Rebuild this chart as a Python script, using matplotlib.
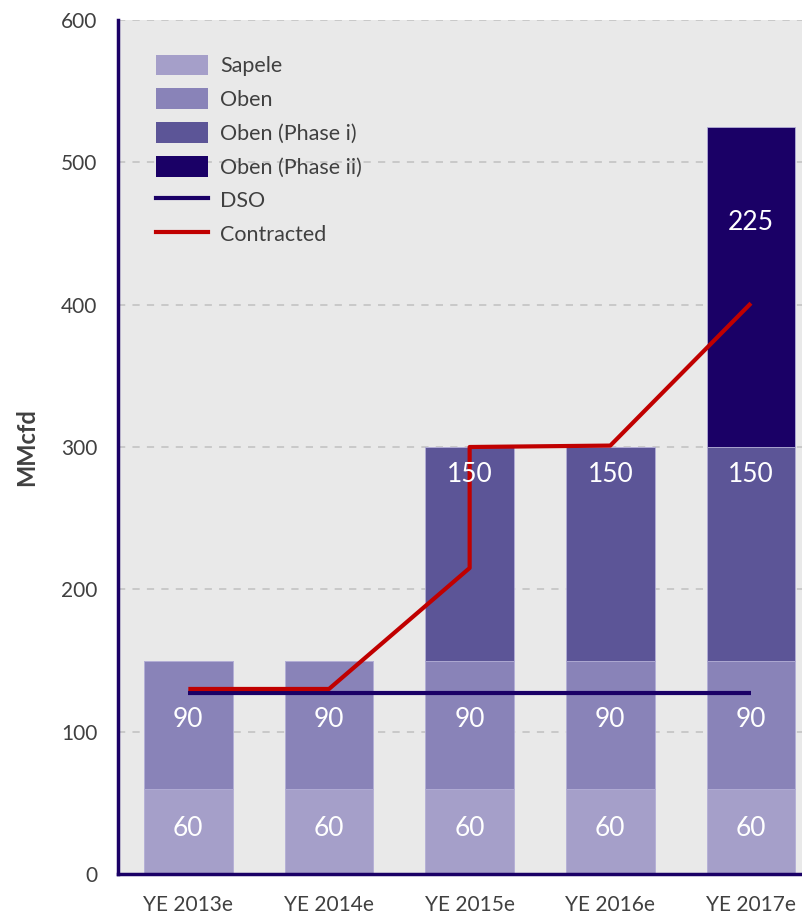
import matplotlib
matplotlib.use("Agg")
import matplotlib.pyplot as plt
import numpy as np
from matplotlib.patches import Patch
from matplotlib.lines import Line2D

plt.rcParams['font.family'] = ['Lato', 'DejaVu Sans']

categories = ["YE 2013e", "YE 2014e", "YE 2015e", "YE 2016e", "YE 2017e"]
sapele = [60, 60, 60, 60, 60]
oben = [90, 90, 90, 90, 90]
oben_phase_i = [0, 0, 150, 150, 150]
oben_phase_ii = [0, 0, 0, 0, 225]
dso = [127, 127, 127, 127, 127]
contracted_x = [0, 1, 2, 2, 3, 4]
contracted = [130, 130, 215, 300, 301, 401]

series = [
    ("Sapele", sapele, "#a59fc9", 0.53),
    ("Oben", oben, "#8983b8", 0.54),
    ("Oben (Phase i)", oben_phase_i, "#5c5597", 0.87),
    ("Oben (Phase ii)", oben_phase_ii, "#1a0066", 0.70),
]

fig = plt.figure(figsize=(8.03, 9.14), dpi=100)
ax = fig.add_axes([118/803, 40/914, 1 - 118/803, 854/914])
ax.set_facecolor("#e9e9e9")

x = np.arange(len(categories))
bottom = np.zeros(len(categories))
handles = []
for name, vals, color, frac in series:
    vals = np.array(vals, dtype=float)
    ax.bar(x, vals, width=0.63, bottom=bottom, color=color,
           edgecolor="#b3aed6", linewidth=0.6, zorder=2)
    for xi, v, b in zip(x, vals, bottom):
        if v > 0:
            ax.text(xi, b + v * frac, f"{int(v)}", ha="center", va="center",
                    color="white", fontsize=19, zorder=5)
    bottom += vals
    handles.append(Patch(facecolor=color, label=name))

ax.plot(x, dso, color="#1a0066", lw=3.0, zorder=3, solid_capstyle="butt")
ax.plot(contracted_x, contracted, color="#c00000", lw=3.0, zorder=4,
        solid_capstyle="butt")
handles.append(Line2D([0], [0], color="#1a0066", lw=3.0, label="DSO"))
handles.append(Line2D([0], [0], color="#c00000", lw=3.0, label="Contracted"))

ax.set_ylim(0, 600)
ax.set_xlim(-0.5, 4.37)
ax.set_yticks(range(0, 601, 100))
ax.set_xticks(x)
ax.set_xticklabels(categories)
ax.yaxis.grid(True, linestyle=(0, (4, 4)), color="#c6c6c6", lw=1.3, zorder=0)
ax.set_axisbelow(True)
ax.tick_params(axis="both", length=0, labelsize=15, labelcolor="#404040")
ax.tick_params(axis="y", pad=15)
ax.tick_params(axis="x", pad=15)
for s in ["top", "right"]:
    ax.spines[s].set_visible(False)
for s in ["left", "bottom"]:
    ax.spines[s].set_color("#1a0066")
    ax.spines[s].set_linewidth(2.5)

ax.set_ylabel("MMcfd", fontsize=17, fontweight="bold", color="#404040", labelpad=16)

leg = ax.legend(handles=handles, loc="upper left", bbox_to_anchor=(0.027, 0.982),
                frameon=False, fontsize=15.5, handlelength=2.4, handleheight=1.1,
                labelspacing=0.56, handletextpad=0.6, labelcolor="#404040")

fig.savefig("out.png", dpi=100)
